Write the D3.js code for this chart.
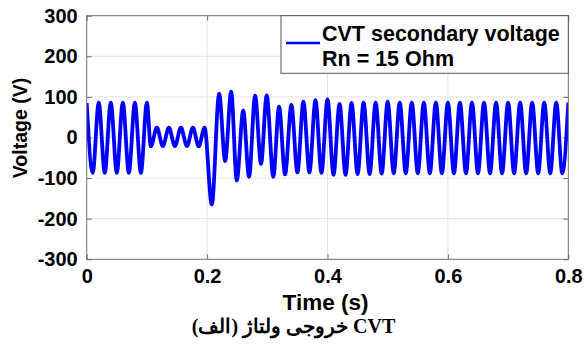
<!DOCTYPE html>
<html>
<head>
<meta charset="utf-8">
<script src="https://cdn.jsdelivr.net/npm/d3@7"></script>
<style>
  html, body { margin: 0; padding: 0; background: #fff; }
  svg { display: block; }
</style>
</head>
<body>
<div id="chart"></div>
<script>
// peak / trough points of the CVT secondary voltage
const peakTimes = [
  0, 0.01, 0.02, 0.03, 0.04, 0.05, 0.06, 0.07, 0.08, 0.09, 0.10,
  0.1065, 0.1165, 0.1265, 0.1365, 0.1465, 0.1565, 0.1665, 0.1765, 0.186, 0.1958,
  0.2078, 0.22, 0.23, 0.24, 0.2493, 0.26, 0.2697, 0.2797, 0.2896, 0.299,
  0.31, 0.3195, 0.3295, 0.34, 0.35, 0.36, 0.37, 0.38, 0.39, 0.40,
  0.41, 0.42, 0.43, 0.44, 0.45, 0.46, 0.47, 0.48, 0.49, 0.50,
  0.51, 0.52, 0.53, 0.54, 0.55, 0.56, 0.57, 0.58, 0.59, 0.60,
  0.61, 0.62, 0.63, 0.64, 0.65, 0.66, 0.67, 0.68, 0.69, 0.70,
  0.71, 0.72, 0.73, 0.74, 0.75, 0.76, 0.77, 0.78, 0.79, 0.80
];
const peakVolts = [
  85, -87, 86, -87, 86, -87, 86, -87, 86, -87, 86,
  -22, 24, -21, 24, -21, 24, -21, 24, -22, 24,
  -165, 108, -58, 113, -106, 66, -97, 103, -65, 104,
  -97, 76, -91, 80, -86, 88, -86, 92, -87, 94,
  -92, 83, -92, 85, -90, 86, -90, 86, -89, 88,
  -88, 86, -88, 86, -88, 86, -88, 86, -88, 86,
  -88, 86, -88, 86, -88, 86, -88, 86, -88, 86,
  -88, 86, -88, 86, -88, 86, -88, 86, -88, 86
];

const xTicks = [0, 0.2, 0.4, 0.6, 0.8];
const yTicks = [-300, -200, -100, 0, 100, 200, 300];
const legendLines = ['CVT secondary voltage', 'Rn = 15 Ohm'];
// caption words, in the order they sit on the page from left to right
const captionWords = ['(الف)', 'ولتاژ', 'خروجی', 'CVT'];

const W = 585, H = 349;
const plot = { left: 86.7, right: 568.3, top: 15.7, bottom: 259.3 };

const svg = d3.select('#chart').append('svg')
  .attr('width', W)
  .attr('height', H);

const x = d3.scaleLinear().domain([0, 0.8]).range([plot.left, plot.right]);
const y = d3.scaleLinear().domain([-300, 300]).range([plot.bottom, plot.top]);

const frameColor = '#6e6e6e';
const gridColor = '#e3e3e3';
const font = 'Liberation Sans, Arial, sans-serif';
const serif = 'Liberation Serif, Times New Roman, DejaVu Serif, serif';

// grid
svg.append('g')
  .selectAll('line')
  .data(xTicks.slice(1, -1))
  .join('line')
  .attr('x1', d => x(d)).attr('x2', d => x(d))
  .attr('y1', plot.top).attr('y2', plot.bottom)
  .attr('stroke', gridColor).attr('stroke-width', 1);

svg.append('g')
  .selectAll('line')
  .data(yTicks.slice(1, -1))
  .join('line')
  .attr('x1', plot.left).attr('x2', plot.right)
  .attr('y1', d => y(d)).attr('y2', d => y(d))
  .attr('stroke', gridColor).attr('stroke-width', 1);

// inward ticks on all four sides (matlab box)
const tickLen = 5;
const axisStyle = g => {
  g.select('.domain').remove();
  g.selectAll('.tick line').attr('stroke', frameColor);
};

svg.append('g')
  .attr('transform', `translate(0,${plot.bottom})`)
  .call(d3.axisBottom(x).tickValues(xTicks).tickSizeInner(-tickLen).tickSizeOuter(0).tickPadding(10).tickFormat(d => String(d)))
  .call(axisStyle)
  .call(g => g.selectAll('.tick text')
    .attr('fill', '#000').attr('font-family', font).attr('font-weight', 'bold').attr('font-size', 20));

svg.append('g')
  .attr('transform', `translate(0,${plot.top})`)
  .call(d3.axisTop(x).tickValues(xTicks).tickSizeInner(-tickLen).tickSizeOuter(0).tickFormat(''))
  .call(axisStyle);

svg.append('g')
  .attr('transform', `translate(${plot.left},0)`)
  .call(d3.axisLeft(y).tickValues(yTicks).tickSizeInner(-tickLen).tickSizeOuter(0).tickPadding(9).tickFormat(d => String(d)))
  .call(axisStyle)
  .call(g => g.selectAll('.tick text')
    .attr('fill', '#000').attr('font-family', font).attr('font-weight', 'bold').attr('font-size', 20));

svg.append('g')
  .attr('transform', `translate(${plot.right},0)`)
  .call(d3.axisRight(y).tickValues(yTicks).tickSizeInner(-tickLen).tickSizeOuter(0).tickFormat(''))
  .call(axisStyle);

// waveform through the read extremes
const wave = peakTimes.map((t, i) => ({ t, v: peakVolts[i] }));
const line = d3.line()
  .x(d => x(d.t))
  .y(d => y(d.v))
  .curve(d3.curveMonotoneX);

svg.append('defs').append('clipPath').attr('id', 'clip')
  .append('rect')
  .attr('x', plot.left).attr('y', plot.top)
  .attr('width', plot.right - plot.left).attr('height', plot.bottom - plot.top);

svg.append('path')
  .datum(wave)
  .attr('clip-path', 'url(#clip)')
  .attr('fill', 'none')
  .attr('stroke', '#0000ff')
  .attr('stroke-width', 3.8)
  .attr('stroke-linejoin', 'round')
  .attr('d', line);

// frame
svg.append('rect')
  .attr('x', plot.left).attr('y', plot.top)
  .attr('width', plot.right - plot.left).attr('height', plot.bottom - plot.top)
  .attr('fill', 'none').attr('stroke', frameColor).attr('stroke-width', 1);

// legend
const lg = svg.append('g');
lg.append('rect')
  .attr('x', 281).attr('y', plot.top)
  .attr('width', plot.right - 281).attr('height', 57.6)
  .attr('fill', '#fff').attr('stroke', '#555').attr('stroke-width', 1);
lg.append('line')
  .attr('x1', 286).attr('x2', 320)
  .attr('y1', 43).attr('y2', 43)
  .attr('stroke', '#0000ff').attr('stroke-width', 2.5);
lg.selectAll('text')
  .data(legendLines)
  .join('text')
  .attr('x', 322)
  .attr('y', (d, i) => 40.5 + i * 25)
  .attr('font-family', font).attr('font-weight', 'bold').attr('font-size', 21.5)
  .attr('fill', '#000')
  .text(d => d);

// axis titles
svg.append('text')
  .attr('transform', `translate(27,128) rotate(-90)`)
  .attr('text-anchor', 'middle')
  .attr('font-family', font).attr('font-weight', 'bold').attr('font-size', 19.5)
  .text('Voltage (V)');

svg.append('text')
  .attr('x', (plot.left + plot.right) / 2 - 2)
  .attr('y', 310)
  .attr('text-anchor', 'middle')
  .attr('font-family', font).attr('font-weight', 'bold').attr('font-size', 22.5)
  .text('Time (s)');

// caption: each word placed left to right so the bidi reordering can't swap them
const cap = svg.append('g');
const capWords = cap.selectAll('text')
  .data(captionWords)
  .join('text')
  .attr('y', 333)
  .attr('font-family', serif)
  .attr('font-weight', 'bold').attr('font-size', 20)
  .attr('fill', '#000')
  .text(d => d);
const gap = 5;
const widths = capWords.nodes().map(n => n.getComputedTextLength());
const total = d3.sum(widths) + gap * (widths.length - 1);
let cx = 293.5 - total / 2;
capWords.attr('x', (d, i) => {
  const pos = cx;
  cx += widths[i] + gap;
  return pos;
});
</script>
</body>
</html>
